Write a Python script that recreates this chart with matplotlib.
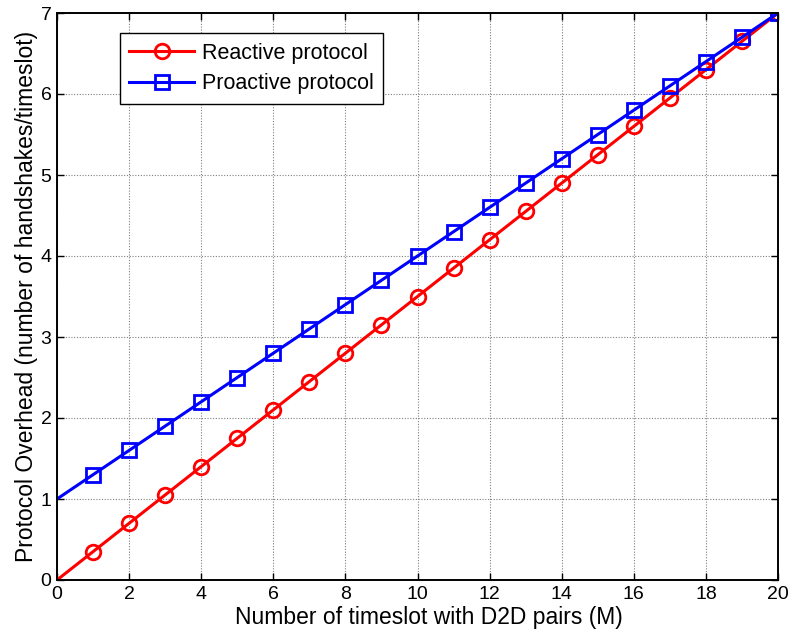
import matplotlib
matplotlib.use('Agg')
import matplotlib.pyplot as plt

# data
x = [0, 1, 2, 3, 4, 5, 6, 7, 8, 9, 10, 11, 12, 13, 14, 15, 16, 17, 18, 19, 20]
reactive = [0, 0.35, 0.7, 1.05, 1.4, 1.75, 2.1, 2.45, 2.8, 3.15, 3.5,
            3.85, 4.2, 4.55, 4.9, 5.25, 5.6, 5.95, 6.3, 6.65, 7.0]
proactive = [1.0, 1.3, 1.6, 1.9, 2.2, 2.5, 2.8, 3.1, 3.4, 3.7, 4.0,
             4.3, 4.6, 4.9, 5.2, 5.5, 5.8, 6.1, 6.4, 6.7, 7.0]
xticks = [0, 2, 4, 6, 8, 10, 12, 14, 16, 18, 20]
yticks = [0, 1, 2, 3, 4, 5, 6, 7]

plt.rcParams['font.family'] = ['Liberation Sans', 'DejaVu Sans']
plt.rcParams['font.size'] = 14

fig = plt.figure(figsize=(7.9, 6.42), dpi=100)
ax = fig.add_axes([57/790, 1 - 580/642, 721/790, 567/642])

ax.plot(x, reactive, color='red', lw=2.2, marker='o', ms=10.5, mfc='none', mew=2,
        markevery=slice(1, None), label='Reactive protocol')
ax.plot(x, proactive, color='blue', lw=2.2, marker='s', ms=10.5, mfc='none', mew=2,
        markevery=slice(1, None), label='Proactive protocol')

ax.set_xlim(0, 20)
ax.set_ylim(0, 7)
ax.set_xticks(xticks)
ax.set_yticks(yticks)
ax.grid(True, color='#808080', linestyle=(0, (1, 1.5)), lw=0.8)
ax.tick_params(direction='in', top=True, right=True, length=5, width=1, pad=4)
for s in ax.spines.values():
    s.set_linewidth(1.4)

ax.set_xlabel('Number of timeslot with D2D pairs (M)', fontsize=16.5, labelpad=0)
ax.xaxis.set_label_coords(0.516, -0.046)
ax.set_ylabel('Protocol Overhead (number of handshakes/timeslot)', fontsize=16.5, labelpad=2)

leg = ax.legend(loc='upper left', bbox_to_anchor=(0.087, 0.965), fancybox=False,
                edgecolor='black', framealpha=1, borderpad=0.45, handlelength=3.0,
                labelspacing=0.45, borderaxespad=0, handletextpad=0.35, fontsize=15.5)
leg.get_frame().set_linewidth(1.0)

fig.savefig('out.png', dpi=100)
